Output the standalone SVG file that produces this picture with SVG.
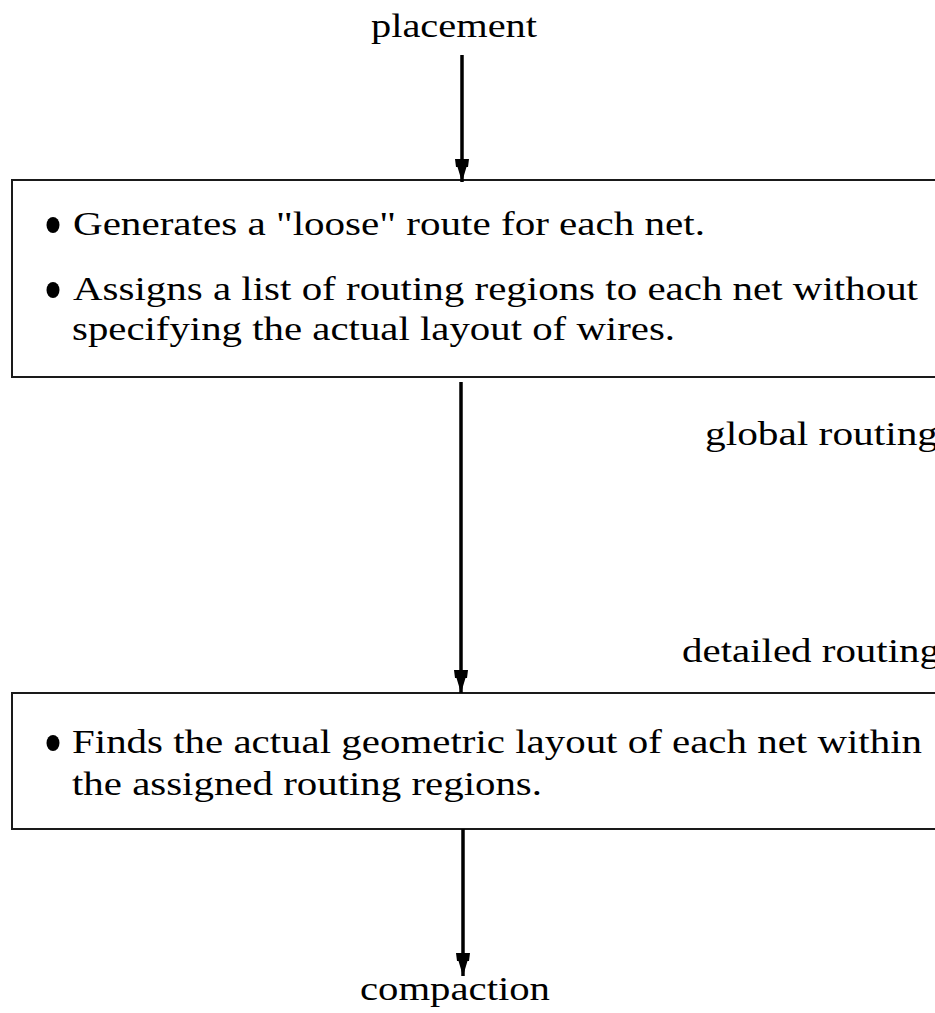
<svg xmlns="http://www.w3.org/2000/svg" width="935" height="1013" viewBox="0 0 935 1013">
<style>
.t{font-family:"Liberation Serif","Times New Roman",serif;font-size:34px;fill:#000}
.box{fill:#fff;stroke:#1a1a1a;stroke-width:2}
.conn{stroke:#000;stroke-width:3.5;fill:none}
.dot{fill:#000}
</style>
<defs>
<marker id="ah" markerWidth="24" markerHeight="16" refX="23" refY="0" orient="auto" markerUnits="userSpaceOnUse" viewBox="0 -8 24 16">
<path d="M0,-7 L8,-6 L8,-4.5 L23,0 L8,4.5 L8,6 L0,7 Z" fill="#000"/>
</marker>
</defs>
<rect width="935" height="1013" fill="#fff"/>
<g id="global-routing-box">
<rect class="box" x="12" y="180" width="940" height="197"/>
<ellipse class="dot" cx="53" cy="225" rx="6.5" ry="8"/>
<text class="t" x="73" y="235" textLength="632" lengthAdjust="spacingAndGlyphs">Generates a "loose" route for each net.</text>
<ellipse class="dot" cx="53" cy="290" rx="6.5" ry="8"/>
<text class="t" x="73" y="300" textLength="845" lengthAdjust="spacingAndGlyphs">Assigns a list of routing regions to each net without</text>
<text class="t" x="72" y="340" textLength="603" lengthAdjust="spacingAndGlyphs">specifying the actual layout of wires.</text>
</g>
<g id="detailed-routing-box">
<rect class="box" x="12" y="693" width="940" height="136"/>
<ellipse class="dot" cx="53" cy="743" rx="6.5" ry="8"/>
<text class="t" x="72" y="753" textLength="850" lengthAdjust="spacingAndGlyphs">Finds the actual geometric layout of each net within</text>
<text class="t" x="72" y="795" textLength="470" lengthAdjust="spacingAndGlyphs">the assigned routing regions.</text>
</g>
<g id="connectors">
<line class="conn" x1="462" y1="55" x2="462" y2="182" marker-end="url(#ah)"/>
<line class="conn" x1="461" y1="382" x2="461" y2="693" marker-end="url(#ah)"/>
<line class="conn" x1="463" y1="829" x2="463" y2="976" marker-end="url(#ah)"/>
</g>
<g id="placement"><text class="t" x="371" y="37" textLength="166" lengthAdjust="spacingAndGlyphs">placement</text></g>
<g id="global-routing"><text class="t" x="705" y="445" textLength="233" lengthAdjust="spacingAndGlyphs">global routing</text></g>
<g id="detailed-routing"><text class="t" x="682" y="662" textLength="258" lengthAdjust="spacingAndGlyphs">detailed routing</text></g>
<g id="compaction"><text class="t" x="360" y="1000" textLength="190" lengthAdjust="spacingAndGlyphs">compaction</text></g>
</svg>
